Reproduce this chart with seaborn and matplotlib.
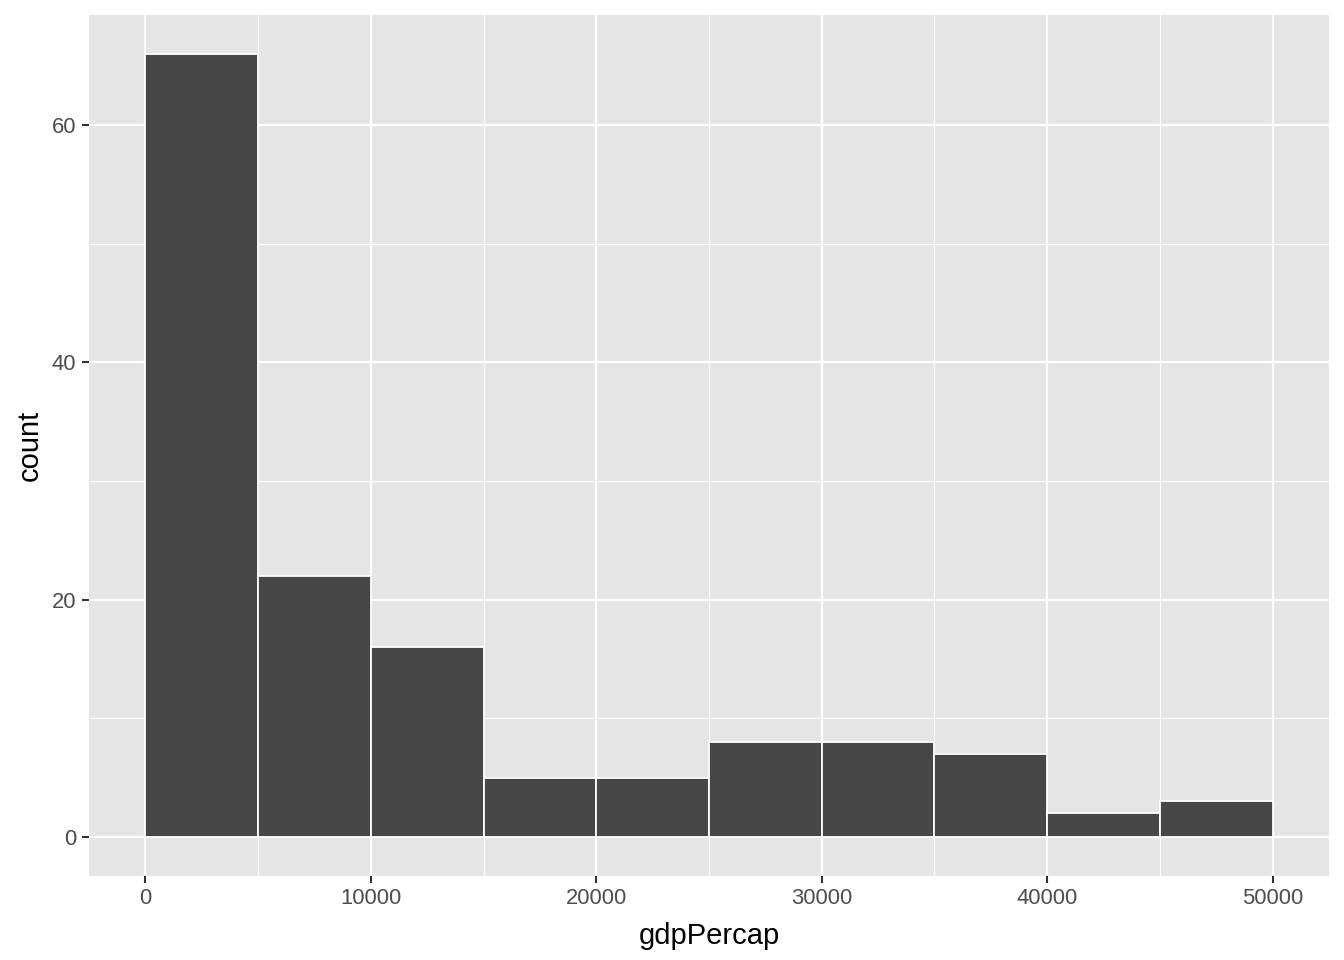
import numpy as np
import seaborn as sns
import matplotlib.pyplot as plt

# bin edges and counts
bin_edges = [0, 5000, 10000, 15000, 20000, 25000, 30000, 35000, 40000, 45000, 50000]
counts = [66, 22, 16, 5, 5, 8, 8, 7, 2, 3]
x_ticks = [0, 10000, 20000, 30000, 40000, 50000]
y_ticks = [0, 20, 40, 60]

sns.set_theme(style="darkgrid", rc={
    "axes.facecolor": "#E5E5E5",
    "grid.color": "white",
    "axes.edgecolor": "none",
})
plt.rcParams['font.family'] = ['Liberation Sans', 'DejaVu Sans']

centers = [(a + b) / 2 for a, b in zip(bin_edges[:-1], bin_edges[1:])]

fig = plt.figure(figsize=(13.44, 9.6), dpi=100)
ax = fig.add_axes([89 / 1344, 84 / 960, 1240 / 1344, 861 / 960])

sns.histplot(x=centers, weights=counts, bins=bin_edges, ax=ax,
             color="#474747", alpha=1, edgecolor="white", linewidth=1.3)

ax.set_xlim(-2500, 52500)
ax.set_ylim(-3.3, 69.3)
ax.set_xticks(x_ticks)
ax.set_yticks(y_ticks)
ax.set_xticks([5000, 15000, 25000, 35000, 45000], minor=True)
ax.set_yticks([10, 30, 50], minor=True)
ax.grid(which="major", color="white", linewidth=1.6)
ax.grid(which="minor", color="white", linewidth=0.8)
ax.set_axisbelow(True)

ax.tick_params(axis="both", which="major", length=5, width=1.5, color="#333333",
               labelsize=15.8, labelcolor="#4D4D4D", pad=4, bottom=True, left=True)
ax.tick_params(axis="both", which="minor", length=0)
ax.set_xlabel("gdpPercap", fontsize=21, color="black", labelpad=9)
ax.set_ylabel("count", fontsize=21, color="black", labelpad=6)

fig.savefig("out.png", dpi=100)
